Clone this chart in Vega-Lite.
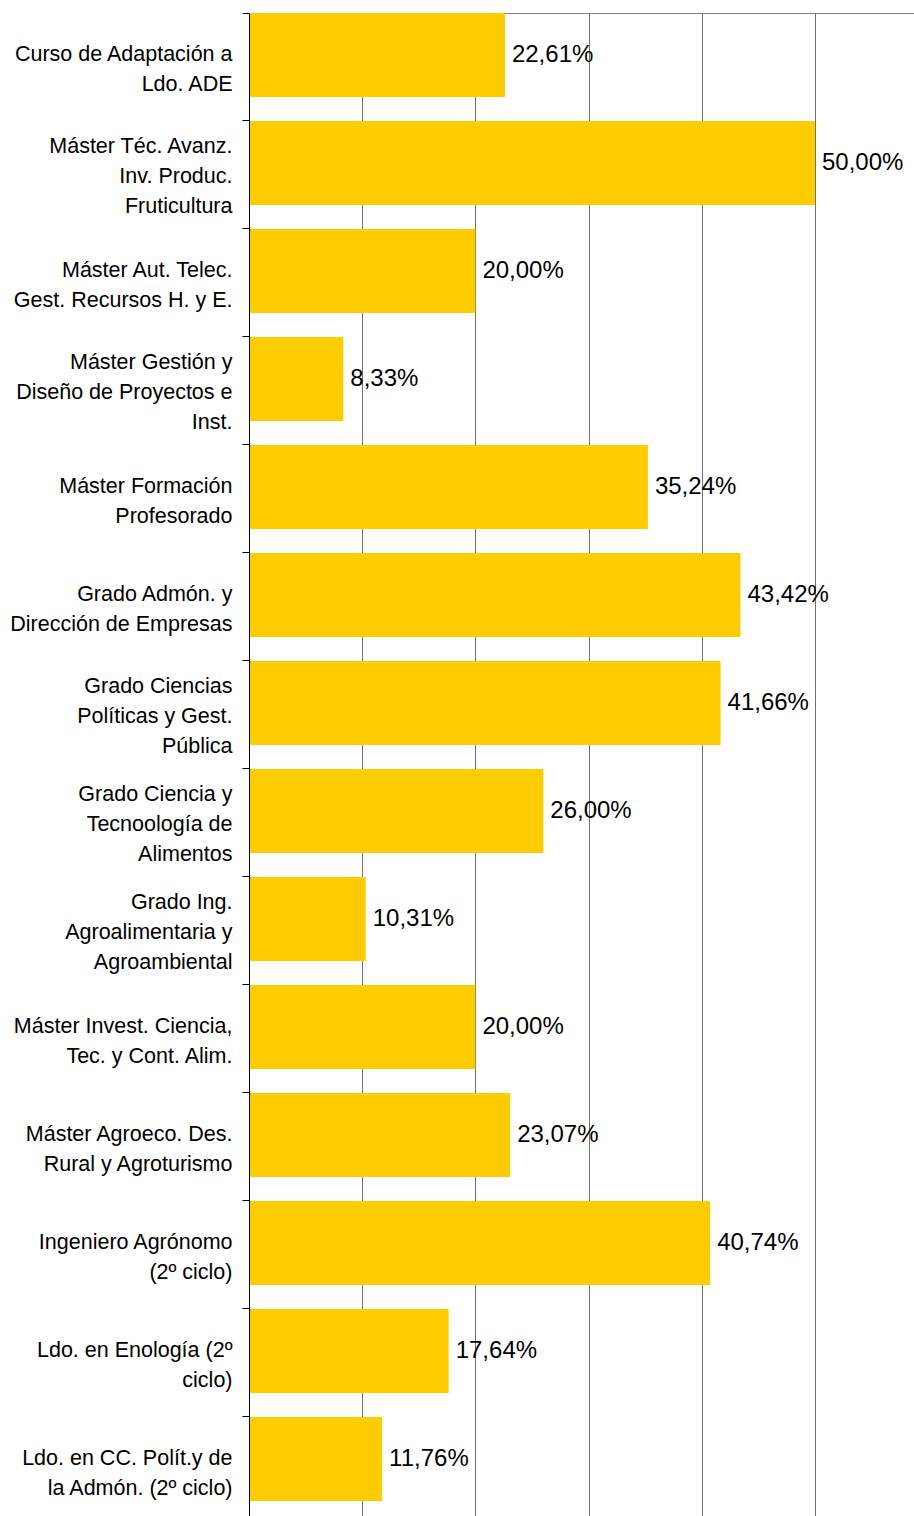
{
  "$schema": "https://vega.github.io/schema/vega-lite/v6.json",
  "width": 665,
  "height": 1503,
  "autosize": "none",
  "padding": {"left": 249, "top": 13, "right": 0, "bottom": 0},
  "background": "white",
  "data": {
    "values": [
      {"course": "Curso de Adaptación a|Ldo. ADE", "value": 0.2261},
      {"course": "Máster Téc. Avanz.|Inv. Produc.|Fruticultura", "value": 0.5},
      {"course": "Máster Aut. Telec.|Gest. Recursos H. y E.", "value": 0.2},
      {"course": "Máster Gestión y|Diseño de Proyectos e|Inst.", "value": 0.0833},
      {"course": "Máster Formación|Profesorado", "value": 0.3524},
      {"course": "Grado Admón. y|Dirección de Empresas", "value": 0.4342},
      {"course": "Grado Ciencias|Políticas y Gest.|Pública", "value": 0.4166},
      {"course": "Grado Ciencia y|Tecnoología de|Alimentos", "value": 0.26},
      {"course": "Grado Ing.|Agroalimentaria y|Agroambiental", "value": 0.1031},
      {"course": "Máster Invest. Ciencia,|Tec. y Cont. Alim.", "value": 0.2},
      {"course": "Máster Agroeco. Des.|Rural y Agroturismo", "value": 0.2307},
      {"course": "Ingeniero Agrónomo|(2º ciclo)", "value": 0.4074},
      {"course": "Ldo. en Enología (2º|ciclo)", "value": 0.1764},
      {"course": "Ldo. en CC. Polít.y de|la Admón. (2º ciclo)", "value": 0.1176}
    ]
  },
  "encoding": {
    "y": {
      "field": "course",
      "type": "nominal",
      "sort": null,
      "scale": {"paddingInner": 0.2222, "paddingOuter": 0.0695, "align": 0},
      "axis": {
        "title": null,
        "zindex": 1,
        "bandPosition": 0,
        "labelOffset": {"condition": {"test": "length(split(datum.value, '|')) == 3", "value": -16}, "value": 0},
        "labelExpr": "split(datum.label, '|')",
        "labelLineHeight": 30,
        "labelFont": "Liberation Sans",
        "labelFontSize": 21.5,
        "labelColor": "#000000",
        "labelLimit": 400,
        "labelPadding": 10,
        "labelBaseline": "middle",
        "labelAlign": "right",
        "tickSize": 7,
        "tickColor": "#000000",
        "domainColor": "#000000"
      }
    },
    "x": {
      "field": "value",
      "type": "quantitative",
      "scale": {"domain": [0, 0.5875], "nice": false, "zero": true},
      "axis": {
        "orient": "top",
        "title": null,
        "labels": false,
        "ticks": false,
        "values": [0, 0.1, 0.2, 0.3, 0.4, 0.5],
        "grid": true,
        "gridColor": "#707070",
        "gridOpacity": 1,
        "domainColor": "#808080"
      }
    }
  },
  "layer": [
    {"mark": {"type": "bar", "color": "#FFCC00"}},
    {
      "mark": {"type": "text", "align": "left", "baseline": "middle", "dx": 7, "font": "Liberation Sans", "fontSize": 24, "color": "#000000"},
      "encoding": {"text": {"field": "value", "type": "quantitative", "format": ".2%"}}
    }
  ],
  "config": {
    "view": {"stroke": null},
    "locale": {
      "number": {"decimal": ",", "thousands": ".", "grouping": [3], "currency": ["", " €"]}
    }
  }
}
